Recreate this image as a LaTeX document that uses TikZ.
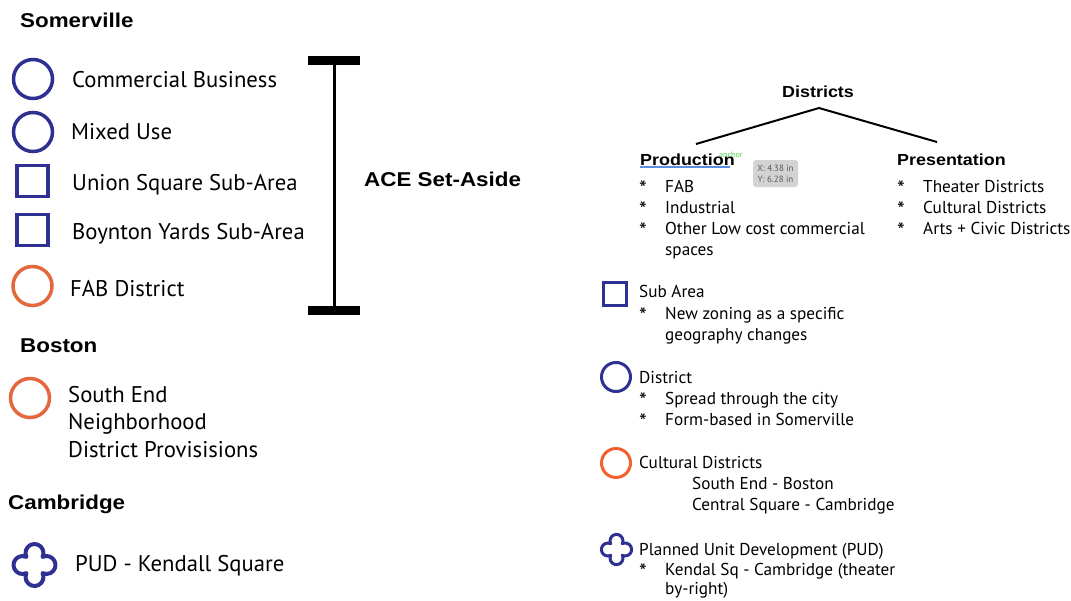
\documentclass[tikz,border=0pt]{standalone}
\usepackage{fontspec}
\setmainfont{PT Sans}
\newfontfamily\headfont{Liberation Sans Bold}[FakeStretch=1.12]
\definecolor{navy}{HTML}{2E3192}
\definecolor{orangeA}{HTML}{E4683E}
\definecolor{orangeB}{HTML}{F2612E}
\definecolor{tipgray}{HTML}{D3D3D3}
\definecolor{anchorgreen}{HTML}{4CD64C}
\definecolor{linkblue}{HTML}{5B8DE0}
\tikzset{
  head/.style={font=\headfont\fontsize{20}{24}\selectfont, anchor=base west, inner sep=0pt},
  subhead/.style={font=\headfont\fontsize{16}{20}\selectfont, anchor=base west, inner sep=0pt},
  big/.style={font=\fontsize{22.7}{26}\selectfont, anchor=base west, inner sep=0pt},
  small/.style={font=\fontsize{17.2}{20}\selectfont, anchor=base west, inner sep=0pt},
  star/.style={font=\fontsize{22}{24}\selectfont, anchor=base west, inner sep=0pt},
  ring/.style={draw=#1, line width=3.5pt, circle, inner sep=0pt, minimum size=39pt},
  sring/.style={draw=#1, line width=3pt, circle, inner sep=0pt, minimum size=29pt},
  sq/.style={draw=navy, line width=3.5pt, inner sep=0pt, minimum size=31pt},
  ssq/.style={draw=navy, line width=3pt, inner sep=0pt, minimum size=23pt},
  clover/.pic={
    \draw[navy, line width=#1, line join=round] (0,0) ++(12,0) ++(-115.5:9)
      arc[start angle=-115.5, end angle=115.5, radius=9]
      arc[start angle=-25.5, end angle=205.5, radius=9]
      arc[start angle=64.5, end angle=295.5, radius=9]
      arc[start angle=154.5, end angle=385.5, radius=9] -- cycle;
  },
  bar/.style={line width=9pt},
  stem/.style={line width=3pt},
  tree/.style={line width=2pt},
}
\begin{document}
\begin{tikzpicture}[x=1pt, y=-1pt]
\useasboundingbox (0,0) rectangle (1071,600);
% ---------------- Left: Somerville
\node[head] (som) at (20,27) {Somerville};
\node[ring=navy] (c1) at (33,79) {};
\node[big] (t1) at (72,87) {Commercial Business};
\node[ring=navy] (c2) at (33,132) {};
\node[big] (t2) at (71,139) {Mixed Use};
\node[sq] (s1) at (32.5,181) {};
\node[big] (t3) at (72,190) {Union Square Sub-Area};
\node[sq] (s2) at (32.5,230) {};
\node[big] (t4) at (72,239) {Boynton Yards Sub-Area};
\node[ring=orangeA] (c3) at (32.5,286) {};
\node[big] (t5) at (70,296) {FAB District};
% ---------------- Boston
\node[head] (bos) at (20,352) {Boston};
\node[ring=orangeA] (c4) at (30,398) {};
\node[big] (t6) at (68,402) {South End};
\node[big] (t7) at (68,429) {Neighborhood};
\node[big] (t8) at (68,457) {District Provisisions};
% ---------------- Cambridge
\node[head] (cam) at (8,509) {Cambridge};
\pic (p1) at (34.5,565) {clover=4pt};
\node[big] (t9) at (75,571) {PUD - Kendall Square};
% ---------------- Bracket
\coordinate (btop) at (334,60);
\coordinate (bbot) at (334,310);
\draw[bar] (308,60) -- (360,60);
\draw[bar] (308,310) -- (360,310);
\draw[stem] (btop) -- (bbot);
\node[head] (ace) at (364,186) {ACE Set-Aside};
% ---------------- Right: Districts tree
\node[subhead] (dis) at (782,97) {Districts};
\coordinate (apex) at (819,108);
\coordinate (lleg) at (696,144);
\coordinate (rleg) at (937,142);
\draw[tree] (lleg) -- (apex) -- (rleg);
\node[subhead] (prod) at (640,165) {Production};
\draw[linkblue, line width=1.5pt] (prod.base west) ++(0,2) -- ++(90,0);
\node[anchor=base west, inner sep=0pt, text=anchorgreen, font=\fontsize{8}{9}\selectfont] (anc) at (719,157) {anchor};
\node[fill=tipgray, rounded corners=3pt, minimum width=45pt, minimum height=27pt, inner sep=0pt] (tip) at (775.5,173.5) {};
\node[anchor=base, inner sep=0pt, text=black!65, font=\fontsize{9}{10}\selectfont] (tipx) at (775.5,171) {X: 4.38 in};
\node[anchor=base, inner sep=0pt, text=black!65, font=\fontsize{9}{10}\selectfont] (tipy) at (775.5,182) {Y: 6.28 in};
\node[star] (b1) at (639,196) {*};
\node[small] (p1t) at (665,192) {FAB};
\node[star] (b2) at (639,217) {*};
\node[small] (p2t) at (665,213) {Industrial};
\node[star] (b3) at (639,238) {*};
\node[small] (p3t) at (665,234) {Other Low cost commercial};
\node[small] (p4t) at (665,255) {spaces};
\node[subhead] (pres) at (897,165) {Presentation};
\node[star] (b4) at (897,196) {*};
\node[small] (r1) at (923,192) {Theater Districts};
\node[star] (b5) at (897,217) {*};
\node[small] (r2) at (923,213) {Cultural Districts};
\node[star] (b6) at (897,238) {*};
\node[small] (r3) at (923,234) {Arts + Civic Districts};
% ---------------- Right legend
\node[ssq] (rs) at (615,293.5) {};
\node[small] (l1) at (639,297) {Sub Area};
\node[star] (b7) at (639,323) {*};
\node[small] (l2) at (665,319) {New zoning as a specific};
\node[small] (l3) at (665,340) {geography changes};
\node[sring=navy] (rc1) at (616,377) {};
\node[small] (l4) at (639,383) {District};
\node[star] (b8) at (639,408) {*};
\node[small] (l5) at (665,404) {Spread through the city};
\node[star] (b9) at (639,429) {*};
\node[small] (l6) at (665,425) {Form-based in Somerville};
\node[sring=orangeB] (rc2) at (616,463) {};
\node[small] (l7) at (639,468) {Cultural Districts};
\node[small] (l8) at (692,489) {South End - Boston};
\node[small] (l9) at (692,510) {Central Square - Cambridge};
\pic[scale=0.72] (p2) at (616.5,549.5) {clover=3pt};
\node[small] (l10) at (639,555) {Planned Unit Development (PUD)};
\node[star] (b10) at (639,579) {*};
\node[small] (l11) at (665,575) {Kendal Sq - Cambridge (theater};
\node[small] (l12) at (665,594) {by-right)};
\end{tikzpicture}
\end{document}
